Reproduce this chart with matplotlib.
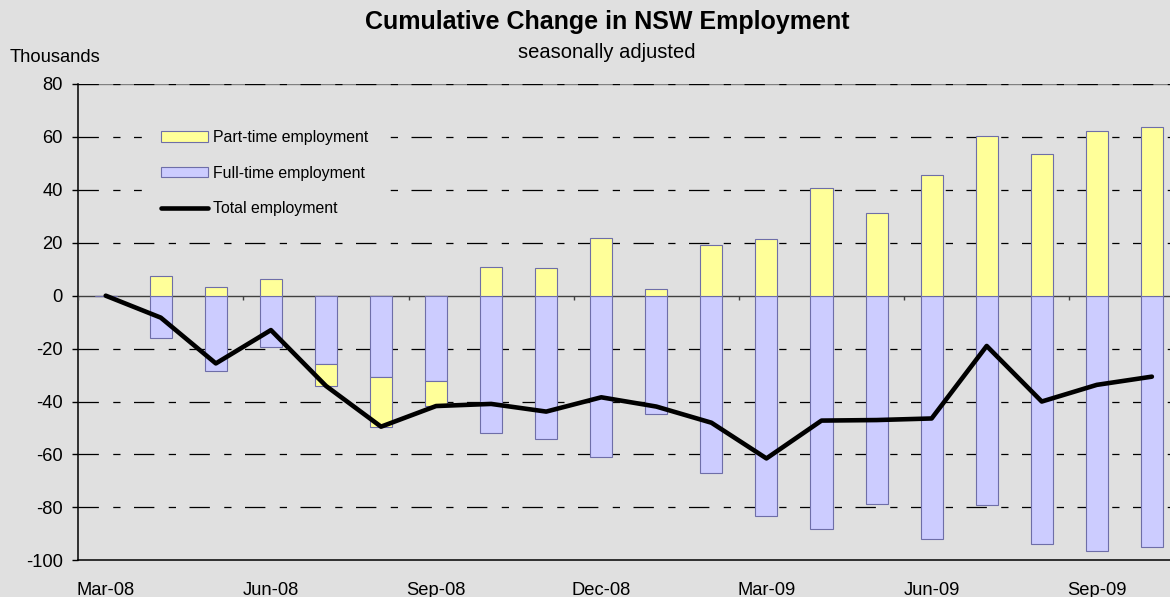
import matplotlib.pyplot as plt
import numpy as np

plt.rcParams['font.family'] = ['Liberation Sans', 'DejaVu Sans']
plt.rcParams['axes.unicode_minus'] = False

months = ['Mar-08', 'Apr-08', 'May-08', 'Jun-08', 'Jul-08', 'Aug-08', 'Sep-08',
          'Oct-08', 'Nov-08', 'Dec-08', 'Jan-09', 'Feb-09', 'Mar-09', 'Apr-09',
          'May-09', 'Jun-09', 'Jul-09', 'Aug-09', 'Sep-09', 'Oct-09']
# thousands, cumulative change since Mar-08
full_time = [0, -16.0, -28.6, -19.5, -25.9, -30.9, -32.4, -52.0, -54.3, -60.8,
             -44.7, -67.1, -83.4, -88.1, -78.7, -92.1, -79.2, -93.8, -96.6, -94.9]
part_time = [0, 7.6, 3.2, 6.4, -8.4, -18.6, -9.4, 10.7, 10.3, 21.9,
             2.5, 19.2, 21.6, 40.7, 31.4, 45.5, 60.2, 53.6, 62.4, 63.9]
total = [0, -8.3, -25.6, -13.0, -34.1, -49.5, -41.7, -40.9, -43.8, -38.4,
         -41.9, -48.0, -61.5, -47.2, -47.0, -46.4, -19.0, -40.0, -33.7, -30.6]
yticks = [-100, -80, -60, -40, -20, 0, 20, 40, 60, 80]

bg = '#E0E0E0'
edge = '#6E6EA8'

fig = plt.figure(figsize=(11.7, 5.97), dpi=100)
fig.patch.set_facecolor(bg)
ax = fig.add_axes([78.2 / 1170, 36.7 / 597, 1101.2 / 1170, 476.3 / 597])
ax.set_facecolor(bg)

x = np.arange(len(months))
ft = np.array(full_time)
pt = np.array(part_time)
# excel style stacking: negatives go under the full-time bar
pt_bottom = np.where(pt < 0, ft, 0)

# grid lines (long dash, short dash)
ax.axhline(80, color='#808080', lw=1.0, zorder=1)
for y in yticks:
    if y in (0, -100):
        continue
    ax.axhline(y, color='black', lw=0.9, linestyle=(0, (16.3, 11.5, 5.8, 10.8)), zorder=1)
ax.axhline(0, color='#404040', lw=1.0, zorder=1)

b_ft = ax.bar(x, ft, width=0.4, color='#CCCCFF', edgecolor=edge, linewidth=0.8, zorder=2)
b_pt = ax.bar(x, pt, width=0.4, bottom=pt_bottom, color='#FFFF99', edgecolor=edge,
              linewidth=0.8, zorder=2)
ln, = ax.plot(x, total, color='black', lw=3.3, solid_capstyle='round', zorder=3)

# small category ticks on the zero line every quarter
ax.vlines(np.arange(-0.5, len(months), 3), 0, -1.5, color='#404040', lw=1.0, zorder=3)

ax.set_xlim(-0.5, len(months) - 0.5)
ax.set_ylim(-100, 80)
ax.set_yticks(yticks)
ax.set_xticks(x[::3])
ax.set_xticklabels(months[::3])
ax.tick_params(axis='x', length=0, pad=15.5, labelsize=13.2)
ax.tick_params(axis='y', length=4.5, width=1, pad=6.5, labelsize=13.2, direction='out')

ax.spines['top'].set_visible(False)
ax.spines['right'].set_visible(False)
ax.spines['left'].set_linewidth(1.1)
ax.spines['bottom'].set_linewidth(1.1)

leg = ax.legend([b_pt, b_ft, ln],
                ['Part-time employment', 'Full-time employment', 'Total employment'],
                loc='upper left', bbox_to_anchor=(141.5 / 1170, 1 - 111 / 597),
                bbox_transform=fig.transFigure, frameon=True, fancybox=False,
                facecolor=bg, edgecolor=bg, framealpha=1, fontsize=11.4,
                handlelength=3.0, handleheight=0.63, handletextpad=0.3,
                labelspacing=1.3, borderpad=1.2, borderaxespad=0)
leg.set_zorder(4)

fig.text(607 / 1170, 1 - 22 / 597, 'Cumulative Change in NSW Employment',
         ha='center', va='center', fontsize=18, fontweight='bold')
fig.text(607 / 1170, 1 - 52 / 597, 'seasonally adjusted',
         ha='center', va='center', fontsize=14.5)
fig.text(10 / 1170, 1 - 57 / 597, 'Thousands', ha='left', va='center', fontsize=13.2)

fig.savefig('out.png', dpi=100, facecolor=bg)
